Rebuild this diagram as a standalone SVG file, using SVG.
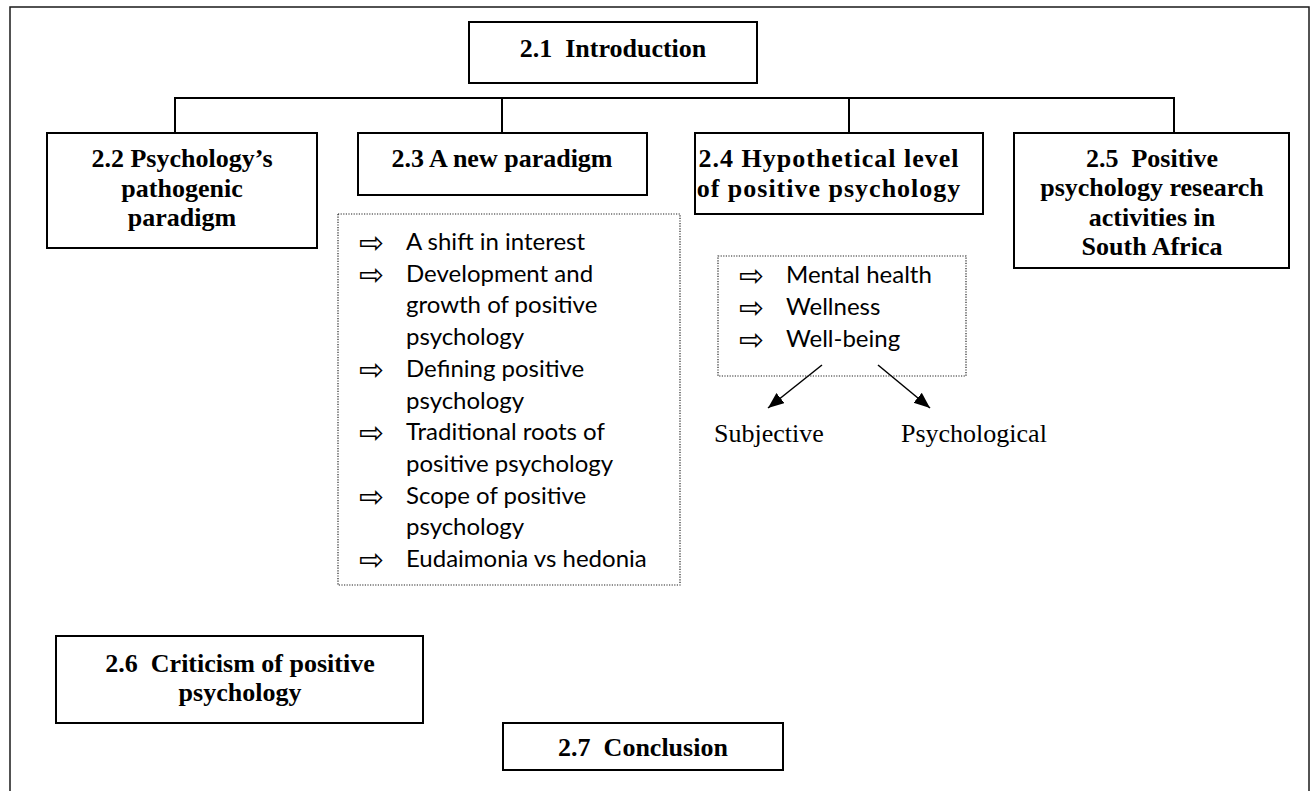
<svg xmlns="http://www.w3.org/2000/svg" width="1314" height="791" viewBox="0 0 1314 791">
  <style>
    .frame { fill: #fff; stroke: #1a1a1a; stroke-width: 1.5; }
    .box { fill: #fff; stroke: #000; stroke-width: 2; }
    .dot { fill: none; stroke: #222; stroke-width: 1.2; stroke-dasharray: 1.2 1.4; }
    .conn { fill: none; stroke: #000; stroke-width: 2; }
    .arr { fill: none; stroke: #000; stroke-width: 1.5; }
    .hd { font-family: "Liberation Serif", "Times New Roman", serif; font-weight: bold; font-size: 26px; text-anchor: middle; white-space: pre; fill: #000; }
    .wide { letter-spacing: 1px; }
    .li { font-family: Lato, "Liberation Sans", sans-serif; font-size: 24px; fill: #000; }
    .bu { font-family: "DejaVu Sans", sans-serif; font-size: 30px; fill: #000; }
    .pl { font-family: "Liberation Serif", "Times New Roman", serif; font-size: 26px; fill: #000; }
  </style>
  <defs>
    <marker id="head" markerUnits="userSpaceOnUse" markerWidth="18" markerHeight="14" refX="16" refY="6.5" orient="auto">
      <path d="M0,0 L16,6.5 L0,13 z" fill="#000"/>
    </marker>
  </defs>

  <rect width="1314" height="791" fill="#fff"/>
  <rect class="frame" x="10" y="7" width="1299" height="800"/>

  <!-- tree connectors -->
  <g id="connectors">
    <path class="conn" d="M175,133 V98 H1174 V133"/>
    <path class="conn" d="M502,98 V133"/>
    <path class="conn" d="M849,98 V133"/>
    <line class="arr" x1="822" y1="365" x2="768" y2="408" marker-end="url(#head)"/>
    <line class="arr" x1="878" y1="365" x2="930" y2="408" marker-end="url(#head)"/>
  </g>

  <g id="n21">
    <rect class="box" x="469" y="22" width="288" height="61"/>
    <text class="hd" x="613" y="57">2.1  Introduction</text>
  </g>

  <g id="n22">
    <rect class="box" x="47" y="133" width="270" height="115"/>
    <text class="hd" x="182" y="167">2.2 Psychology’s</text>
    <text class="hd" x="182" y="196.5">pathogenic</text>
    <text class="hd" x="182" y="226">paradigm</text>
  </g>

  <g id="n23">
    <rect class="box" x="358" y="133" width="289" height="62"/>
    <text class="hd" x="502" y="167">2.3 A new paradigm</text>
  </g>

  <g id="n23-list">
    <rect class="dot" x="338" y="214" width="342" height="371"/>
    <text class="bu" x="359" y="253">⇨</text>
    <text class="li" x="406" y="250">A shift in interest</text>
    <text class="bu" x="359" y="284.7">⇨</text>
    <text class="li" x="406" y="281.7">Development and</text>
    <text class="li" x="406" y="313.4">growth of positive</text>
    <text class="li" x="406" y="345.1">psychology</text>
    <text class="bu" x="359" y="379.8">⇨</text>
    <text class="li" x="406" y="376.8">Defining positive</text>
    <text class="li" x="406" y="408.5">psychology</text>
    <text class="bu" x="359" y="443.2">⇨</text>
    <text class="li" x="406" y="440.2">Traditional roots of</text>
    <text class="li" x="406" y="471.9">positive psychology</text>
    <text class="bu" x="359" y="506.6">⇨</text>
    <text class="li" x="406" y="503.6">Scope of positive</text>
    <text class="li" x="406" y="535.3">psychology</text>
    <text class="bu" x="359" y="570">⇨</text>
    <text class="li" x="406" y="567">Eudaimonia vs hedonia</text>
  </g>

  <g id="n24">
    <rect class="box" x="695" y="133" width="288" height="81"/>
    <text class="hd wide" x="829" y="167">2.4 Hypothetical level</text>
    <text class="hd wide" x="829" y="197">of positive psychology</text>
  </g>

  <g id="n24-list">
    <rect class="dot" x="718" y="256" width="248" height="120"/>
    <text class="bu" x="739" y="286">⇨</text>
    <text class="li" x="786" y="283">Mental health</text>
    <text class="bu" x="739" y="318">⇨</text>
    <text class="li" x="786" y="315">Wellness</text>
    <text class="bu" x="739" y="350">⇨</text>
    <text class="li" x="786" y="347">Well-being</text>
  </g>

  <g id="subjective">
    <text class="pl" x="714" y="442">Subjective</text>
  </g>
  <g id="psychological">
    <text class="pl" x="901" y="442">Psychological</text>
  </g>

  <g id="n25">
    <rect class="box" x="1014" y="133" width="275" height="135"/>
    <text class="hd" x="1152" y="167">2.5  Positive</text>
    <text class="hd" x="1152" y="196">psychology research</text>
    <text class="hd" x="1152" y="225.5">activities in</text>
    <text class="hd" x="1152" y="255">South Africa</text>
  </g>

  <g id="n26">
    <rect class="box" x="56" y="636" width="367" height="87"/>
    <text class="hd" x="240" y="672">2.6  Criticism of positive</text>
    <text class="hd" x="240" y="701">psychology</text>
  </g>

  <g id="n27">
    <rect class="box" x="503" y="723" width="280" height="47"/>
    <text class="hd" x="643" y="756">2.7  Conclusion</text>
  </g>
</svg>
